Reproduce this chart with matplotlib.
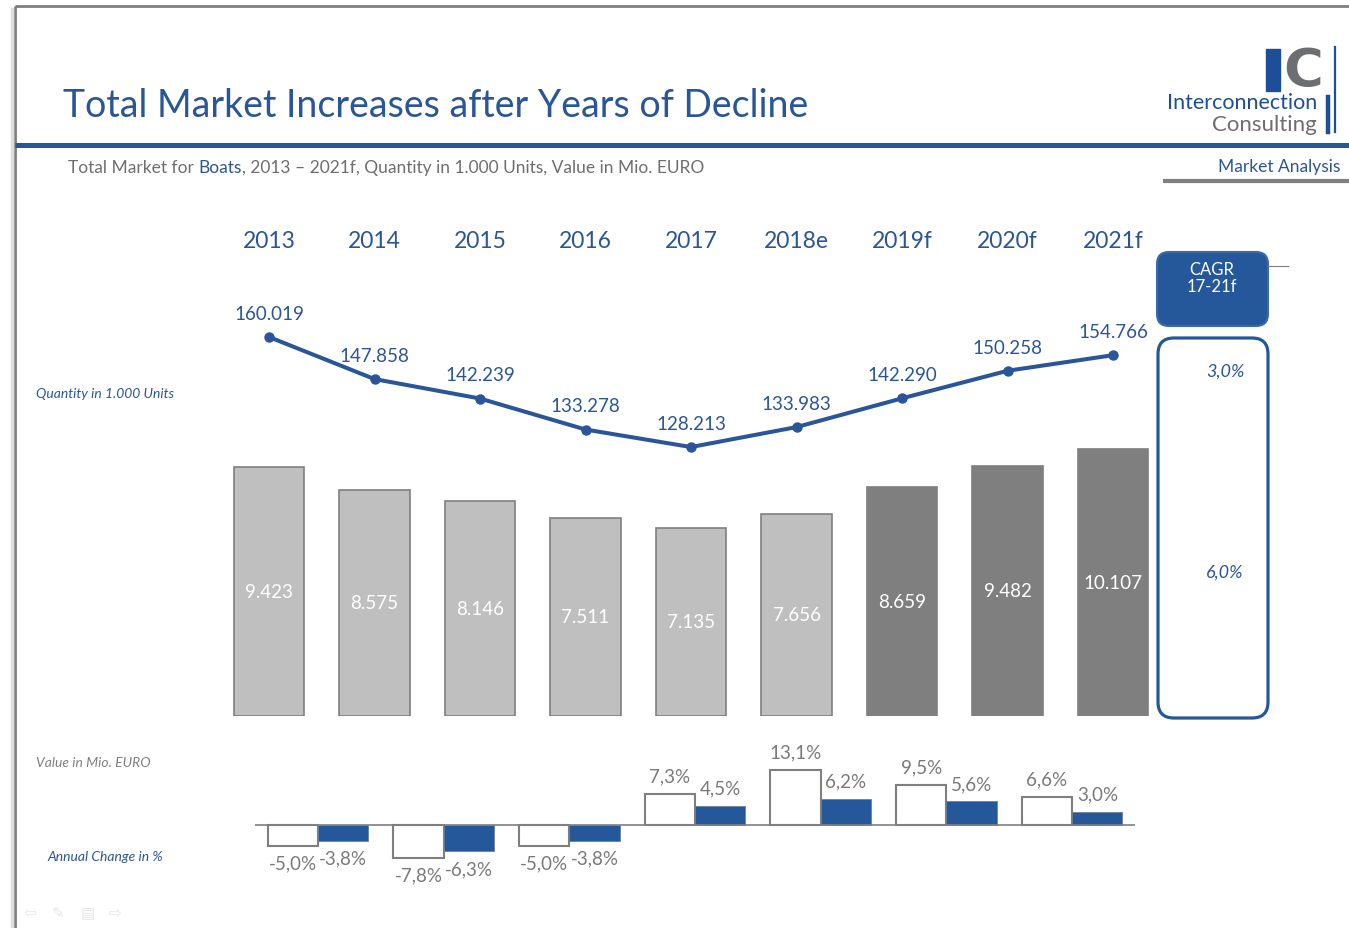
"""Boats total market slide: quantity line, value bars and annual change pairs."""

import matplotlib

matplotlib.use("Agg")
import matplotlib.pyplot as plt
from matplotlib.patches import FancyBboxPatch, Rectangle
from matplotlib.transforms import blended_transform_factory

plt.rcParams["font.family"] = ["Lato", "DejaVu Sans"]

# ---- data -------------------------------------------------------------
years = ["2013", "2014", "2015", "2016", "2017", "2018e", "2019f", "2020f", "2021f"]
quantity = [160.019, 147.858, 142.239, 133.278, 128.213, 133.983, 142.290, 150.258, 154.766]
value = [9.423, 8.575, 8.146, 7.511, 7.135, 7.656, 8.659, 9.482, 10.107]
forecast = [False, False, False, False, False, False, True, True, True]
change_qty = [-5.0, -7.8, -5.0, 7.3, 13.1, 9.5, 6.6]
change_val = [-3.8, -6.3, -3.8, 4.5, 6.2, 5.6, 3.0]
cagr_labels = ["3,0%", "6,0%"]

BLUE = "#2a5699"
GRAY = "#7f7f7f"
LIGHT = "#bfbfbf"
TXT_GRAY = "#6e6e6e"

W, H = 1349, 929


def px_rect(x0, y0, x1, y1):
    return [x0 / W, 1 - y1 / H, (x1 - x0) / W, (y1 - y0) / H]


def pct(v):
    return f"{v:.1f}".replace(".", ",") + "%"


fig = plt.figure(figsize=(W / 100, H / 100), dpi=100, facecolor="white")

# background / decoration axes in pixel coordinates
bg = fig.add_axes([0, 0, 1, 1])
bg.set_xlim(0, W)
bg.set_ylim(H, 0)
bg.axis("off")

# slide frame
bg.plot([15, W], [7, 7], color=GRAY, lw=2, solid_capstyle="butt")
bg.plot([15, 15], [7, H], color=GRAY, lw=2, solid_capstyle="butt")
bg.plot([12, 12], [10, H], color="#dddddd", lw=2.5)
bg.plot([15, W], [146, 146], color=BLUE, lw=3.6, solid_capstyle="butt")
bg.plot([1163, W], [182, 182], color=GRAY, lw=3, solid_capstyle="butt")

bg.text(63, 106, "Total Market Increases after Years of Decline", color=BLUE,
        fontsize=27, va="center", ha="left")

# subtitle with coloured word
t1 = bg.text(68, 168, "Total Market for ", color=TXT_GRAY, fontsize=12.5, va="center")
t2 = bg.annotate("Boats", xycoords=t1, xy=(1, 0), va="bottom", color=BLUE, fontsize=12.5)
bg.annotate(", 2013 \u2013 2021f, Quantity in 1.000 Units, Value in Mio. EURO",
            xycoords=t2, xy=(1, 0), va="bottom", color=TXT_GRAY, fontsize=12.5)
bg.text(1340, 167, "Market Analysis", color=BLUE, fontsize=12.5, ha="right", va="center")

# logo
bg.add_patch(Rectangle((1266, 50), 14, 42, color="#1f4e99"))
bg.text(1283, 72, "C", color="#6d6e71", fontsize=39, fontweight="bold",
        va="center", ha="left", family="DejaVu Sans")
bg.plot([1335, 1335], [48, 133], color="#1f4e99", lw=1.6)
bg.plot([1328, 1328], [98, 133], color="#1f4e99", lw=3.2)
bg.text(1317, 103, "Interconnection", color="#1f4e99", fontsize=15.5, ha="right", va="center")
bg.text(1317, 125, "Consulting", color="#6d6e71", fontsize=16, ha="right", va="center")

# left captions
bg.text(36, 394, "Quantity in 1.000 Units", color=BLUE, fontsize=10, style="italic", va="center")
bg.text(36, 763, "Value in Mio. EURO", color="#808080", fontsize=10, style="italic", va="center")
bg.text(47, 857, "Annual Change in %", color=BLUE, fontsize=10, style="italic", va="center")

# CAGR boxes
bg.add_patch(FancyBboxPatch((1157, 253), 111, 74, boxstyle="round,pad=0,rounding_size=12",
                            facecolor="#25589a", edgecolor="#3a6aa8", lw=1.5))
bg.plot([1268, 1288], [267, 267], color=GRAY, lw=0.8)
bg.text(1212, 270, "CAGR", color="white", fontsize=12, ha="center", va="center")
bg.text(1212, 287, "17-21f", color="white", fontsize=12, ha="center", va="center")
bg.add_patch(FancyBboxPatch((1158, 339), 110, 380, boxstyle="round,pad=0,rounding_size=16",
                            facecolor="white", edgecolor="#25589a", lw=2.3))
bg.text(1225, 372, cagr_labels[0], color=BLUE, fontsize=13, style="italic", ha="center", va="center")
bg.text(1225, 573, cagr_labels[1], color=BLUE, fontsize=13, style="italic", ha="center", va="center")

# faint navigation icons
for x, s in zip([30, 58, 88, 115], ["\u21e6", "\u270e", "\u25a4", "\u21e8"]):
    bg.text(x, 914, s, color="#e6e6e6", fontsize=11, ha="center", va="center", family="DejaVu Sans")

# ---- main bars + quantity line ----------------------------------------
step = (1113 - 269) / 8
x_left, x_right = 269 - step / 2, 1113 + step / 2
ax = fig.add_axes(px_rect(x_left, 200, x_right, 717))
ax.set_xlim(-0.5, len(years) - 0.5)
ax.set_ylim(0, 517 / 26.4)
ax.axis("off")
idx = list(range(len(years)))
ax.bar(idx, value, width=0.67,
       color=[GRAY if f else LIGHT for f in forecast],
       edgecolor=GRAY, linewidth=1.2)
for i, v in enumerate(value):
    ax.text(i, v / 2, f"{v:.3f}", color="white", fontsize=13.5, ha="center", va="center")

yr_tf = blended_transform_factory(ax.transData, bg.transData)
for i, y in enumerate(years):
    ax.text(i, 241, y, transform=yr_tf, color=BLUE, fontsize=16.5, ha="center", va="center")

axl = fig.add_axes(px_rect(x_left, 200, x_right, 717))
axl.patch.set_alpha(0)
axl.set_xlim(-0.5, len(years) - 0.5)
axl.set_ylim(160.019 - (717 - 338) / 3.46, 160.019 + (338 - 200) / 3.46)
axl.axis("off")
axl.plot(idx, quantity, color=BLUE, lw=2.9, marker="o", markersize=6.5)
for i, q in enumerate(quantity):
    axl.annotate(f"{q:.3f}", (i, q), xytext=(0, 17), textcoords="offset points",
                 color=BLUE, fontsize=13.5, ha="center", va="center")

# ---- annual change pairs ----------------------------------------------
axc = fig.add_axes(px_rect(255, 730, 1135, 900))
axc.set_xlim(-0.5, len(change_qty) - 0.5)
axc.set_ylim(-(900 - 826) / 4.2, (826 - 730) / 4.2)
axc.axis("off")
axc.axhline(0, color=GRAY, lw=1.2)
ci = list(range(len(change_qty)))
bw = 0.4
axc.bar([c - bw / 2 for c in ci], change_qty, width=bw, color="white", edgecolor=GRAY, lw=1.5)
axc.bar([c + bw / 2 for c in ci], change_val, width=bw, color="#25589a", edgecolor="#6f7f99", lw=0.6)
for c, q, v in zip(ci, change_qty, change_val):
    for xx, val in ((c - bw / 2, q), (c + bw / 2, v)):
        off = 13 if val > 0 else -12.5
        axc.annotate(pct(val), (xx, val), xytext=(0, off), textcoords="offset points",
                     color="#7a7a7a", fontsize=13.5, ha="center", va="center")

fig.savefig("out.png", dpi=100, facecolor="white")
plt.close(fig)
